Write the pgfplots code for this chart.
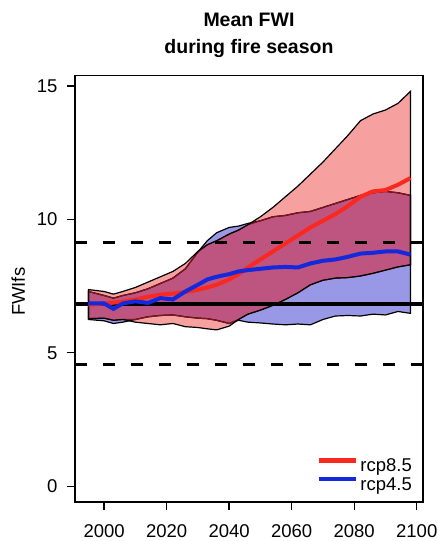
\documentclass[border=0pt]{standalone}
\usepackage{fontspec}
\setmainfont{Liberation Sans}
\usepackage{pgfplots}
\usepackage{pgfplotstable}
\pgfplotsset{compat=1.18}
\usepgfplotslibrary{fillbetween}
\newcommand\f{\fontsize{18.5}{22}\selectfont}
\newcommand\ft{\fontsize{19.5}{23}\selectfont}
\definecolor{salmon}{RGB}{247,160,160}
\definecolor{lav}{RGB}{152,152,230}
\definecolor{mauve}{RGB}{190,84,128}
\definecolor{dred}{RGB}{130,20,30}
\definecolor{rline}{RGB}{250,40,30}
\definecolor{bline}{RGB}{20,40,220}

\pgfplotstableread{
year ru bu rl bl ou ol rm bm
1995 7.37 7.30 6.28 6.25 7.30 6.28 6.80 6.85
2000 7.30 7.15 6.30 6.20 7.15 6.30 6.85 6.85
2003 7.20 7.05 6.22 6.10 7.05 6.22 6.88 6.65
2006 7.30 7.15 6.25 6.15 7.15 6.25 6.92 6.85
2010 7.45 7.25 6.15 6.25 7.25 6.25 7.00 6.93
2014 7.65 7.40 6.10 6.35 7.40 6.35 7.10 6.87
2018 7.85 7.60 6.05 6.40 7.60 6.40 7.18 7.05
2022 8.05 7.80 6.10 6.42 7.80 6.42 7.22 7.00
2026 8.35 8.15 5.98 6.35 8.15 6.35 7.28 7.30
2030 8.80 8.78 5.95 6.30 8.78 6.30 7.36 7.55
2033 9.05 9.20 5.90 6.28 9.05 6.28 7.45 7.75
2036 9.20 9.50 5.86 6.22 9.20 6.22 7.55 7.85
2040 9.45 9.70 6.00 6.10 9.45 6.10 7.75 7.95
2043 9.60 9.75 6.25 6.22 9.60 6.25 7.95 8.05
2046 9.80 9.85 6.45 6.15 9.80 6.45 8.20 8.10
2050 10.10 9.95 6.60 6.12 9.95 6.60 8.50 8.15
2054 10.45 10.10 6.78 6.08 10.10 6.78 8.80 8.20
2058 10.85 10.15 7.00 6.05 10.15 7.00 9.10 8.22
2062 11.25 10.25 7.25 6.08 10.25 7.25 9.40 8.20
2066 11.70 10.30 7.55 6.05 10.30 7.55 9.70 8.35
2070 12.15 10.45 7.72 6.25 10.45 7.72 9.95 8.45
2074 12.65 10.60 7.80 6.38 10.60 7.80 10.20 8.50
2078 13.15 10.75 7.82 6.40 10.75 7.82 10.50 8.60
2082 13.70 10.90 7.88 6.38 10.90 7.88 10.85 8.72
2086 13.95 11.00 7.98 6.45 11.00 7.98 11.05 8.75
2090 14.10 11.05 8.10 6.42 11.05 8.10 11.10 8.80
2094 14.35 11.00 8.22 6.55 11.00 8.22 11.30 8.80
2098 14.80 10.90 8.30 6.48 10.90 8.30 11.55 8.68
}\data

\begin{document}
\begin{tikzpicture}
\begin{axis}[
  scale only axis, width=348pt, height=426.4pt,
  xmin=1990.7, xmax=2102, ymin=-0.59, ymax=15.39,
  xtick={2000,2020,2040,2060,2080,2100}, ytick={0,5,10,15},
  xtick pos=lower, ytick pos=left,
  tick align=outside, major tick length=8pt,
  axis line style={line width=1.3pt},
  every tick/.style={line width=1.3pt, black},
  ticklabel style={font=\f},
  /pgf/number format/assume math mode=true,
  xticklabel style={/pgf/number format/1000 sep={}, yshift=-11pt},
  yticklabel style={xshift=-6pt},
  legend style={draw=none, fill=none, at={(1,0)}, anchor=south east,
    xshift=-6pt, yshift=8pt, font=\f, row sep=3.6pt,
    nodes={inner ysep=0pt}},
  legend cell align=left,
  legend image code/.code={\draw[#1, line width=4.5pt] (0pt,5.5pt) -- (37pt,5.5pt);},
]
\addplot[name path=ru, draw=none, forget plot] table[x=year,y=ru] {\data};
\addplot[name path=rl, draw=none, forget plot] table[x=year,y=rl] {\data};
\addplot[name path=bu, draw=none, forget plot] table[x=year,y=bu] {\data};
\addplot[name path=bl, draw=none, forget plot] table[x=year,y=bl] {\data};
\addplot[name path=ou, draw=none, forget plot] table[x=year,y=ou] {\data};
\addplot[name path=ol, draw=none, forget plot] table[x=year,y=ol] {\data};
% fills
\addplot[salmon, draw=none, forget plot] fill between[of=ru and rl];
\addplot[lav, draw=none, forget plot] fill between[of=bu and bl];
\addplot[mauve, draw=none, forget plot] fill between[of=ou and ol];
% outlines
\addplot[fill=none, draw=black, line width=1.2pt, forget plot] fill between[of=bu and bl];
\addplot[fill=none, draw=dred, line width=1.2pt, forget plot] fill between[of=ou and ol];
\addplot[fill=none, draw=black, line width=1.2pt, forget plot] fill between[of=ru and rl];
% reference lines
\addplot[black, line width=3.6pt, forget plot] coordinates {(1990.7,6.83) (2102,6.83)};
\addplot[black, line width=3pt, dash pattern=on 12pt off 16pt, forget plot] coordinates {(1990.7,9.12) (2102,9.12)};
\addplot[black, line width=3pt, dash pattern=on 12pt off 16pt, forget plot] coordinates {(1990.7,4.56) (2102,4.56)};
% means
\addplot[rline, line width=4pt] table[x=year,y=rm] {\data};
\addlegendentry{rcp8.5}
\addplot[bline, line width=4pt] table[x=year,y=bm] {\data};
\addlegendentry{rcp4.5}
\end{axis}
\node[font=\bfseries\ft, anchor=base] at ([yshift=48.6pt]current axis.north) {Mean FWI};
\node[font=\bfseries\ft, anchor=base] at ([yshift=22.3pt]current axis.north) {during fire season};
\node[font=\f, rotate=90, anchor=base] at ([xshift=-50pt,yshift=-3pt]current axis.west) {FWIfs};
\pgfresetboundingbox
\path ([shift={(-75pt,-39pt)}]current axis.south west) rectangle ([shift={(15pt,75.6pt)}]current axis.north east);
\end{tikzpicture}
\end{document}
